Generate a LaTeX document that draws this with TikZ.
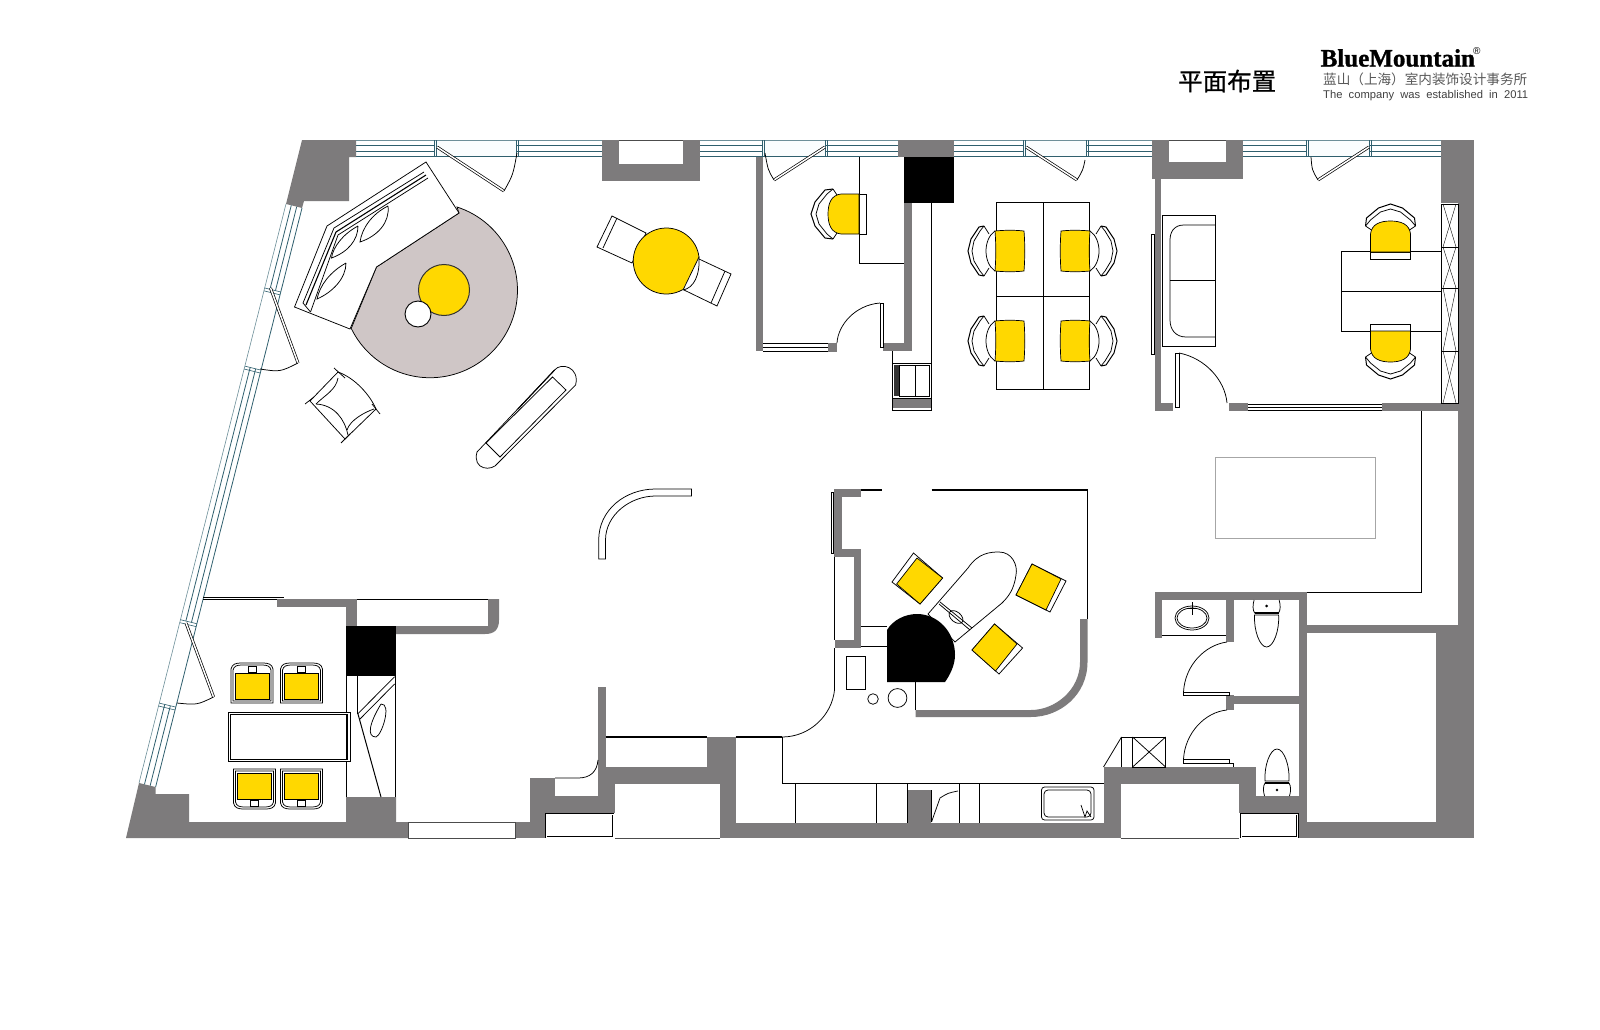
\documentclass[tikz,border=0pt]{standalone}
\usepackage{fontspec}
\usetikzlibrary{calc}
\setmainfont{Liberation Sans}
\newfontfamily\cjkfont{Noto Sans CJK SC}
\newfontfamily\cjktitle[FakeBold=.7]{Noto Sans CJK SC}
\newfontfamily\logofont[BoldFeatures={FakeBold=1.2}]{Liberation Serif}
\definecolor{wallgray}{HTML}{7D7B7C}
\definecolor{seatyellow}{HTML}{FFD800}
\definecolor{rugtone}{HTML}{CFC6C6}
\definecolor{glassteal}{HTML}{2F5F6E}
\definecolor{baytint}{HTML}{FAFDFE}
\tikzset{
  wall/.style={fill=wallgray},
  thin line/.style={draw=black,line width=.75pt},
  heavy line/.style={draw=black,line width=1.4pt},
  glass line/.style={draw=glassteal,line width=.8pt},
  doorleaf/.style={draw=black,line width=.7pt,double,double distance=1.5pt},
  flatleaf/.style={draw=black,line width=.75pt,fill=white},
  seat/.style={fill=seatyellow,draw=black,line width=.7pt},
  officechair/.pic={
    \draw[thin line,fill=white] (0,-20) .. controls (-12,-12) and (-12,12) .. (0,20);
    \draw[seat] (0,-20) .. controls (10,-21) and (20,-21) .. (29,-20) .. controls (30,-8) and (30,8) .. (29,20) .. controls (20,21) and (10,21) .. (0,20) .. controls (1,8) and (1,-8) .. (0,-20) -- cycle;
    \draw[draw=black,line width=1pt] (-11,-25) -- (-16,-24) -- (-24,-12) -- (-27,0) -- (-24,12) -- (-16,24) -- (-11,25);
    \draw[thin line] (-11,-25) -- (-15,-20) -- (-21,-10) -- (-23,0) -- (-21,10) -- (-15,20) -- (-11,25);
    \draw[thin line] (-11,-25) -- (-6,-17);
    \draw[thin line] (-11,25) -- (-6,17);
  },
  roundchair/.pic={
    \draw[thin line,fill=white] (0,-20) rectangle (7,20);
    \draw[seat] (0,-20) -- (-18,-20) .. controls (-28,-19) and (-31,-10) .. (-31,0) .. controls (-31,10) and (-28,19) .. (-18,20) -- (0,20) -- cycle;
    \draw[draw=black,line width=1pt] (-26,-25) -- (-34,-24) -- (-44,-12) -- (-48,0) -- (-44,12) -- (-34,24) -- (-26,25);
    \draw[thin line] (-26,-25) -- (-32,-20) -- (-40,-10) -- (-43,0) -- (-40,10) -- (-32,20) -- (-26,25);
    \draw[thin line] (-26,-25) -- (-22,-19);
    \draw[thin line] (-26,25) -- (-22,19);
  },
  squarechair/.pic={
    \draw[thin line,fill=white] (-21,20) -- (-21,-14) .. controls (-20,-19) and (-16,-20) .. (-11,-20) -- (11,-20) .. controls (16,-20) and (20,-19) .. (21,-14) -- (21,20) -- cycle;
    \draw[thin line] (-19,18) -- (-19,-13) .. controls (-18,-17) and (-15,-18) .. (-10,-18) -- (10,-18) .. controls (15,-18) and (18,-17) .. (19,-13) -- (19,18) -- cycle;
    \draw[seat] (-17,-10) rectangle (17,16);
    \draw[thin line,fill=white] (-4,-17) rectangle (4,-11);
  },
  toiletbowl/.pic={
    \draw[thin line] (-12.5,0) .. controls (-14,5) and (-14,10) .. (-12,13) -- (12,13) .. controls (14,10) and (14,5) .. (12.5,0);
    \draw[draw=black,line width=1.2pt] (-12,13) -- (12,13);
    \draw[thin line] (-12,15) .. controls (-13,30) and (-7,47) .. (0,47) .. controls (7,47) and (13,30) .. (12,15) -- cycle;
    \draw[thin line] (0,6) circle[radius=.9];
  },
}
\newcommand{\winband}[2]{
  \fill[white] (#1,140) rectangle (#2,157);
  \foreach \yline in {145,151,156}
    \draw[glass line] (#1,\yline) -- (#2,\yline);
  \draw[glass line,draw=glassteal!70] (#1,140) -- (#2,140);
}
\newcommand{\winbay}[2]{
  \fill[baytint] (#1,140) rectangle (#2,157);
  \draw[glass line,draw=glassteal!70] (#1,140) -- (#2,140);
  \draw[glass line] (#1,156.5) -- (#2,156.5);
  \foreach \xline in {#1-1,#1+1,#2-1,#2+1}
    \draw[glass line,line width=.6pt] (\xline,140) -- (\xline,157);
}
\begin{document}
\begin{tikzpicture}[x=1pt,y=1pt,yscale=-1]
\useasboundingbox (0,0) rectangle (1600,1030);
\fill[white] (0,0) rectangle (1600,1030);

\fill[rugtone] (351,329) -- (376.5,267) -- (459,213) -- (457,207) arc[start angle=-72,end angle=153.7,radius=87.5] -- cycle;
\draw[thin line] (351,329) -- (376.5,267) -- (459,213) -- (457,207) arc[start angle=-72,end angle=153.7,radius=87.5];

\foreach \xa/\xb in {356/435,517/602,700/763,826/897.5,954/1024,1087/1152,1243/1307,1370/1441} {
  \winband{\xa}{\xb}
}
\foreach \xa/\xb in {435/517,763/826,1024/1087,1307/1370} {
  \winbay{\xa}{\xb}
}

\fill[wall] (302,140) -- (356,140) -- (356,157) -- (349,157) -- (349,201) -- (304,201) -- (302,208) -- (286,204) -- cycle;
\fill[wall] (139,783) -- (155.6,787) -- (155.6,794) -- (189,794) -- (189,822) -- (346,822) -- (346,797) -- (396,797) -- (396,822) -- (408.5,822) -- (408.5,838) -- (126,838) -- cycle;
\foreach \xa/\ya/\xb/\yb in {602/140/700/181,897.5/140/954/157,1152/140/1243/179,1441/140/1474/203,1458/203/1474/838,755.5/157/763/351,904/203/912/351,883/343/912/351,828/343/837/352,1154.5/179/1161/411,1154.5/403/1173/411,1229/403/1248/411,1382/403/1458/411,1154.5/592/1307/600,1154.5/600/1162/638,1226/600/1233.5/642,1299/600/1307/838,1307/625/1458/633,1436/633/1474/838,1299/822/1474/838,1226/695/1233.5/710,1233.5/696/1299/704,1103.5/767/1256/784,1103.5/767/1120.5/838,1239/784/1256/813,1239/796/1299/813,720/823/907/838,907/790/930.5/838,930.5/823/1103.5/838,719.6/784/735.6/838,707/737/735.6/784,605.5/767/707/784,598/687/605.5/813,598/784/615/813,530/796/615/813,530/778/555/838,515/822/545/838,277/599/357/607,346/607/357/627,833.5/489/861/497,833.5/489/842/557,833.5/549/861/557,854.4/557/861/648,834.5/640/861/648,892/398/931/408}
  \fill[wall] (\xa,\ya) rectangle (\xb,\yb);
\foreach \xa/\ya/\xb/\yb in {619/140/683/164,1169/140/1226/162,545/813/614/838,1240/813/1298.5/838}
  \fill[white] (\xa,\ya) rectangle (\xb,\yb);
\draw[draw=black!70,line width=.7pt] (619,140) -- (683,140);
\draw[draw=black!70,line width=.7pt] (1169,140) -- (1226,140);
\fill[wall] (488,599) -- (499,599) -- (499,620) .. controls (499,630) and (494,634) .. (485,634) -- (395.5,634) -- (395.5,626) -- (488,626) -- cycle;
\fill[wall] (1087.5,619) -- (1087.5,662) .. controls (1087.5,695) and (1060,717) .. (1031,717) -- (915.5,717) -- (915.5,710) -- (1031,710) .. controls (1055,710) and (1080,690) .. (1080,662) -- (1080,619) -- cycle;
\fill[black] (904,157) rectangle (954,203);
\fill[black] (346,626) rectangle (395.5,676);
\fill[black] (887,682) -- (887,630) .. controls (893,620) and (905,614) .. (917,614) .. controls (938,614) and (955,632) .. (955,655) .. controls (955,665) and (950,675) .. (945,682) -- cycle;

\coordinate (wla) at (286,204);
\coordinate (wlb) at (139,783);
\coordinate (wra) at (302,208);
\coordinate (wrb) at (155.6,787);
\draw[glass line,draw=glassteal!70,line width=.6pt] (wla) -- (wlb);
\draw[glass line] (wra) -- (wrb);
\foreach \ts/\te in {0/.145,.28/.718,.862/1}
  \foreach \off in {.33,.67}
    \draw[glass line] ($($(wla)!\off!(wra)$)!\ts!($(wlb)!\off!(wrb)$)$) -- ($($(wla)!\off!(wra)$)!\te!($(wlb)!\off!(wrb)$)$);
\foreach \ts in {.145,.15,.28,.285,.718,.723,.862,.867}
  \draw[glass line,line width=.6pt] ($(wla)!\ts!(wlb)$) -- ($(wra)!\ts!(wrb)$);

\draw[doorleaf] (437,147) -- (504,191);
\draw[thin line] (504,191) .. controls (513,175) .. (517,153);
\draw[doorleaf] (825,147) -- (774,180);
\draw[thin line] (774,180) .. controls (768,170) .. (765,153);
\draw[doorleaf] (1026,147) -- (1077,180);
\draw[thin line] (1077,180) .. controls (1083,170) .. (1085,160);
\draw[doorleaf] (1369,147) -- (1318,180);
\draw[thin line] (1318,180) .. controls (1312,170) .. (1311,157);
\draw[doorleaf] (270.5,288) -- (298,363);
\draw[thin line] (298,363) .. controls (280,372) .. (260,369);
\draw[doorleaf] (186,623) -- (213.6,697);
\draw[thin line] (213.6,697) .. controls (197,705) .. (177,703);

\draw[thin line,fill=white] (426,162) -- (327,226) -- (294.5,307) -- (350,329) -- (376.5,267) -- (459,213) -- cycle;
\draw[thin line] (424,172) -- (334,228) -- (303,303) -- (310.5,312);
\draw[thin line] (428,178) -- (338,235) -- (310.5,312);
\draw[draw=black,line width=1.1pt] (426,175) -- (336,232) -- (306,305);
\draw[thin line] (388,206) .. controls (390,222) and (378,236) .. (360,242) .. controls (362,228) and (372,214) .. (388,206);
\draw[thin line] (358,226) .. controls (358,240) and (348,252) .. (331.5,258) .. controls (333,247) and (343,234) .. (358,226);
\draw[thin line] (346,263) .. controls (346,278) and (333,292) .. (317,299) .. controls (320,285) and (330,272) .. (346,263);
\draw[seat,draw=black!80,line width=1pt] (444,290) circle[radius=25.5];
\draw[thin line,fill=white,line width=.9pt] (418,314) circle[radius=13];

\draw[thin line] (612,216) -- (646,233) -- (632,263) -- (597,247) -- cycle;
\draw[thin line] (617,218) -- (603,248);
\draw[thin line] (699,259) -- (731,274) -- (717,306) -- (684,290);
\draw[thin line] (725,271) -- (711,303);
\draw[thin line] (699,257) .. controls (700,275) and (694,288) .. (683,290);
\fill[seatyellow] (699,257) arc[start angle=-7,end angle=-300,radius=33] -- cycle;
\draw[thin line] (699,257) -- (683,290);
\draw[thin line] (699,257) arc[start angle=-7,end angle=-300,radius=33];

\draw[thin line] (338,372) .. controls (355,378) and (370,395) .. (376,409) -- (345,439) -- (310,401) -- cycle;
\draw[thin line] (334,368) -- (345,378);
\draw[thin line] (372,404) -- (380,414);
\draw[thin line] (305,404) -- (314,397);
\draw[thin line] (341,443) -- (350,434);
\draw[thin line] (338,378) .. controls (336,390) and (325,395) .. (316,404);
\draw[thin line] (316,404) .. controls (335,405) and (345,420) .. (348,435);
\draw[thin line] (347,430) .. controls (350,420) and (365,412) .. (374,409);

\draw[thin line] (554.6,370) .. controls (561,362) and (580,367) .. (575.6,385) -- (498,463) .. controls (492,472) and (472,470) .. (477,452) -- cycle;
\draw[thin line] (552.5,377) -- (566,390) -- (500,457) -- (486,443) -- cycle;
\draw[draw=black,line width=1.1pt] (554.6,370) -- (518,409);

\draw[thin line] (859,157) -- (859,263) -- (904,263);
\pic[rotate=0] at (859,214) {roundchair};
\draw[thin line] (996,202) rectangle (1089.5,389);
\draw[thin line] (1043,202) -- (1043,389);
\draw[thin line] (996,296) -- (1089.5,296);
\foreach \ychair in {251,341} {
  \pic at (995,\ychair) {officechair};
  \pic[rotate=180] at (1090,\ychair) {officechair};
}

\draw[thin line] (763,343) -- (828,343);
\draw[thin line] (763,347) -- (828,347);
\draw[thin line] (763,351) -- (828,351);
\draw[flatleaf] (880,303) rectangle (883,347);
\draw[thin line] (880,303) .. controls (855,305) and (838,325) .. (837,343);

\draw[thin line] (931,203) -- (931,410) -- (892,410) -- (892,351);
\draw[thin line] (892,363) -- (931,363);
\draw[thin line] (892,398) -- (931,398);
\fill[black!80] (894,365) rectangle (899,396);
\draw[thin line] (899,365) rectangle (929,396);
\draw[thin line] (915,365) -- (915,396);

\draw[thin line] (1151.5,234) rectangle (1154.5,354);
\draw[thin line] (1162,215) rectangle (1215.5,346);
\draw[thin line] (1215.5,225) -- (1184,225) .. controls (1174,225) and (1170,232) .. (1170,240) -- (1170,320) .. controls (1170,330) and (1176,337) .. (1186,337) -- (1215.5,337);
\draw[thin line] (1170,280) -- (1215.5,280);
\draw[flatleaf] (1175,353) rectangle (1179,407);
\draw[thin line] (1179,353) .. controls (1205,358) and (1225,380) .. (1227,403);
\foreach \yline in {404,407,410}
  \draw[thin line] (1248,\yline) -- (1382,\yline);
\draw[thin line] (1341.5,251) rectangle (1441,331);
\draw[thin line] (1341.5,291) -- (1441,291);
\pic[rotate=-90] at (1390.5,252) {roundchair};
\pic[rotate=90] at (1390.5,331) {roundchair};
\draw[thin line] (1441,204) rectangle (1458,403);
\foreach \ya/\yb in {204/247,247/288,288/351,351/403} {
  \draw[thin line] (1441,\yb) -- (1458,\yb);
  \draw[draw=black,line width=.4pt] (1443,\ya) -- (1456,\yb);
  \draw[draw=black,line width=.4pt] (1456,\ya) -- (1443,\yb);
}

\draw[draw=black!35,line width=.8pt] (1215.5,457) rectangle (1375,538);
\draw[thin line] (1421.5,411) -- (1421.5,592.7) -- (1307,592.7);

\draw[thin line] (834.5,557) -- (834.5,640);
\draw[thin line] (831,492) rectangle (833.5,553);
\draw[heavy line] (861,490) -- (882,490);
\draw[heavy line] (931.5,490) -- (1087.5,490);
\draw[thin line] (1087.5,490) -- (1087.5,619);
\draw[thin line] (861,626) -- (887,626);
\draw[heavy line] (861,646.7) -- (887,646.7);
\draw[thin line] (834.5,648) -- (834.5,690) .. controls (832,715) and (810,737) .. (782,737);
\draw[thin line] (846,656) rectangle (865.5,689);
\draw[thin line] (873,699) circle[radius=5.3];
\draw[thin line] (897.5,698) circle[radius=9.4];
\draw[heavy line,line width=1.1pt] (915.5,682) -- (915.5,710);

\draw[thin line] (928,614) -- (968,568) .. controls (978,553) and (990,552) .. (999,552) .. controls (1012,552) and (1018,565) .. (1016,575) .. controls (1014,590) and (1008,597) .. (1002,603) -- (955,642);
\draw[thin line] (928,614) -- (955,642);
\draw[thin line] (940,602) -- (972,628);
\draw[thin line] (939,604) -- (970,630);
\draw[thin line,rotate around={40:(956,617)}] (956,617) ellipse[x radius=8,y radius=5];

\draw[thin line,fill=white] (913.5,553) -- (942.6,578) -- (920,604) -- (892,582) -- cycle;
\draw[seat] (917,558) -- (942.6,578) -- (920,604) -- (896.6,584) -- cycle;
\draw[thin line,fill=white] (1032,564) -- (1066,581) -- (1050,612) -- (1016,595) -- cycle;
\draw[seat] (1032,564) -- (1061,579) -- (1046,610) -- (1016,595) -- cycle;
\draw[thin line,fill=white] (994.5,624) -- (1022.6,648) -- (999,674) -- (972,650) -- cycle;
\draw[seat] (994.5,624) -- (1017,644) -- (995.5,671) -- (972,650) -- cycle;

\draw[thin line] (1162,635) -- (1226,635);
\draw[thin line] (1192,618) ellipse[x radius=17,y radius=12];
\draw[thin line] (1192,618) ellipse[x radius=15,y radius=10];
\draw[draw=black,line width=1pt] (1192,602) -- (1192,615);
\draw[thin line] (1188,608) -- (1196,608);
\pic[rotate=180] at (1266.6,600) {toiletbowl};
\pic at (1277,796) {toiletbowl};
\draw[flatleaf] (1183,692) rectangle (1229.5,695);
\draw[thin line] (1183.5,692) .. controls (1185,665) and (1205,645) .. (1227,642);
\draw[flatleaf] (1183,759) rectangle (1229.5,763);
\draw[thin line] (1183.5,759) .. controls (1185,733) and (1205,712) .. (1227,710);
\draw[thin line] (1229.5,763) -- (1233.5,763) -- (1233.5,767);
\draw[thin line] (1121.5,737) -- (1165.6,737) -- (1165.6,767);
\draw[thin line] (1121.5,737) -- (1121.5,767);
\draw[thin line] (1132.6,737) rectangle (1165.6,767);
\draw[thin line] (1132.6,737) -- (1165.6,767);
\draw[thin line] (1165.6,737) -- (1132.6,767);
\draw[thin line] (1121.5,737) -- (1103.5,767);

\draw[heavy line] (605.5,737) -- (707,737);
\draw[heavy line] (735.6,737) -- (782,737);
\draw[thin line] (782,737) -- (782,783) -- (1103.5,783);
\foreach \xline in {795,876,907,959.6,979.4}
  \draw[thin line] (\xline,783) -- (\xline,823);
\draw[thin line] (931.5,822) -- (940,798) .. controls (948,793) .. (958,791);
\draw[thin line] (931.5,790) -- (931.5,822);
\draw[thin line,rounded corners=3pt] (1041.5,787) rectangle (1094,820);
\draw[thin line,rounded corners=4pt,fill=white] (1044,790) rectangle (1091,817);
\draw[thin line] (1081,805) -- (1085,817) -- (1087,811) -- (1091,817);

\draw[thin line] (357,599) -- (488,599);
\draw[thin line] (203,597.5) -- (284,597.5);
\draw[thin line] (203,599) -- (277,599);
\draw[thin line] (346,676) -- (346,797);
\draw[thin line] (357.6,676) -- (357.6,714);
\draw[thin line] (395.5,676) -- (395.5,797);
\draw[thin line] (357.6,714) -- (394.6,676.7);
\draw[thin line] (360,719) -- (394.6,684);
\draw[draw=black,line width=1pt] (358,714) -- (381,797);
\draw[thin line] (381,704) .. controls (392,703) and (382,735) .. (376,737) .. controls (366,737) and (370,722) .. (381,704);
\draw[draw=black,line width=.8pt,double,double distance=1.5pt] (229.5,713.5) rectangle (349,760.5);
\pic[rotate=180] at (252,683) {squarechair};
\pic[rotate=180] at (301.5,683) {squarechair};
\pic at (254.5,789) {squarechair};
\pic at (301.5,789) {squarechair};

\draw[thin line] (598.7,559) -- (598.7,540) .. controls (598.7,510) and (625,489) .. (655.6,489) -- (691.4,489) -- (691.4,496) -- (655.6,496) .. controls (630,496) and (605.5,515) .. (605.5,540) -- (605.5,559) -- cycle;
\draw[thin line] (598,760) .. controls (597,772) and (590,778) .. (578,778) -- (555,778);

\draw[draw=black!70,line width=.7pt] (408.5,822) rectangle (515,838);
\draw[draw=black!70,line width=.7pt] (615,838) -- (719.6,838);
\draw[draw=black!70,line width=.7pt] (1120.5,838) -- (1239,838);
\draw[draw=black,line width=.7pt,double,double distance=1pt] (546,814) rectangle (613,837);
\draw[draw=black,line width=.7pt,double,double distance=1pt] (1241,814) rectangle (1297.5,837);

\node[anchor=west,inner sep=0pt,font=\fontsize{24.5}{24.5}\selectfont\cjktitle] (plantitle) at (1178,81) {平面布置};
\node[anchor=west,inner sep=0pt,font=\fontsize{25}{25}\selectfont\logofont\bfseries] (logoname) at (1320.5,58) {BlueMountain};
\node[anchor=west,inner sep=0pt,font=\fontsize{10}{10}\selectfont] (logomark) at (1473,51) {®};
\node[anchor=west,inner sep=0pt,text=black!65,font=\fontsize{13.6}{13.6}\selectfont\cjkfont] (logocn) at (1323,79.5) {蓝山（上海）室内装饰设计事务所};
\node[anchor=west,inner sep=0pt,text=black!75,font=\fontsize{11.2}{11.2}\selectfont] (logoen) at (1323,95.5) {\makebox[205pt][s]{The company was established in 2011}};
\end{tikzpicture}
\end{document}
